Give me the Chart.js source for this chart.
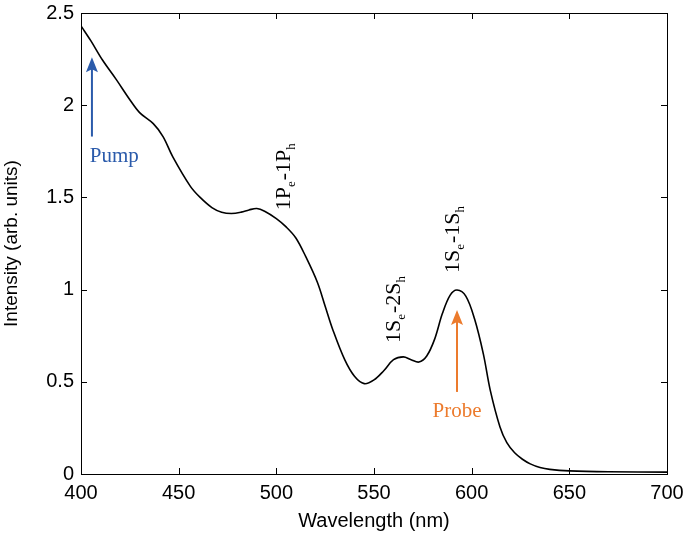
<!DOCTYPE html>
<html>
<head>
<meta charset="utf-8">
<script src="https://cdn.jsdelivr.net/npm/chart.js@4.4.0/dist/chart.umd.min.js"></script>
<style>
  html, body { margin: 0; padding: 0; background: #fff; }
  #wrap { width: 687px; height: 535px; }
</style>
</head>
<body>
<div id="wrap"><canvas id="spec"></canvas></div>
<script>
// wavelength (nm) and intensity
const wavelength = [400, 405, 411, 418, 425, 430, 437, 442, 447, 456, 461, 467, 472, 477, 482, 486, 490, 494, 500, 505, 510, 515, 521, 525, 529, 535, 540, 545, 550, 555, 560, 565, 569, 573, 577, 581, 585, 589, 592.5, 597, 601.5, 606, 609.5, 614.5, 618, 622, 626, 630, 635, 640, 650, 670, 700];
const intensity  = [2.43, 2.35, 2.245, 2.14, 2.03, 1.96, 1.9, 1.83, 1.72, 1.56, 1.5, 1.445, 1.42, 1.413, 1.42, 1.432, 1.44, 1.425, 1.385, 1.34, 1.28, 1.18, 1.04, 0.91, 0.78, 0.62, 0.53, 0.49, 0.51, 0.56, 0.62, 0.635, 0.62, 0.607, 0.64, 0.73, 0.87, 0.97, 0.998, 0.965, 0.84, 0.65, 0.455, 0.255, 0.17, 0.115, 0.08, 0.055, 0.035, 0.025, 0.017, 0.012, 0.01];

const xTicks = [400, 450, 500, 550, 600, 650, 700];
const yTicks = [0, 0.5, 1, 1.5, 2, 2.5];

// transition labels: [main, sub, main, sub] at (wavelength, intensity)
const transitions = [
  { parts: ['1P', 'e', '-1P', 'h'], x: 507, y: 1.43 },
  { parts: ['1S', 'e', '-2S', 'h'], x: 563.5, y: 0.71 },
  { parts: ['1S', 'e', '-1S', 'h'], x: 593.5, y: 1.09 }
];
const arrows = [
  { text: 'Pump',  color: '#2b5bab', x: 405.6, from: 1.83,  to: 2.26, tx: 404.5, ty: 1.69 },
  { text: 'Probe', color: '#ec7b2d', x: 592.5, from: 0.445, to: 0.89, tx: 592.5, ty: 0.31 }
];

const pts = wavelength.map((w, i) => ({ x: w, y: intensity[i] }));

const frame = {
  id: 'frame',
  afterDraw(chart) {
    const ctx = chart.ctx, a = chart.chartArea;
    const xs = chart.scales.x, ys = chart.scales.y;
    ctx.save();
    ctx.strokeStyle = '#000';
    ctx.lineWidth = 1;
    ctx.strokeRect(a.left + 0.5, a.top + 0.5, a.right - a.left, a.bottom - a.top);
    ctx.beginPath();
    xTicks.forEach(v => {
      const p = Math.round(xs.getPixelForValue(v)) + 0.5;
      ctx.moveTo(p, a.bottom); ctx.lineTo(p, a.bottom - 6);
      ctx.moveTo(p, a.top); ctx.lineTo(p, a.top + 6);
    });
    yTicks.forEach(v => {
      const p = Math.round(ys.getPixelForValue(v)) + 0.5;
      ctx.moveTo(a.left, p); ctx.lineTo(a.left + 6, p);
      ctx.moveTo(a.right, p); ctx.lineTo(a.right - 6, p);
    });
    ctx.stroke();

    // rotated transition labels
    ctx.fillStyle = '#000';
    ctx.textBaseline = 'alphabetic';
    transitions.forEach(t => {
      ctx.save();
      ctx.translate(xs.getPixelForValue(t.x), ys.getPixelForValue(t.y));
      ctx.rotate(-Math.PI / 2);
      let off = 0;
      t.parts.forEach((s, i) => {
        const sub = i % 2 === 1;
        ctx.font = sub ? '13px "Liberation Serif"' : '22px "Liberation Serif"';
        ctx.fillText(s, off, sub ? 5 : 0);
        off += ctx.measureText(s).width + (sub ? 1 : 0);
      });
      ctx.restore();
    });

    // pump / probe arrows
    arrows.forEach(r => {
      const x = xs.getPixelForValue(r.x);
      const y0 = ys.getPixelForValue(r.from), y1 = ys.getPixelForValue(r.to);
      ctx.strokeStyle = r.color;
      ctx.fillStyle = r.color;
      ctx.lineWidth = 2;
      ctx.beginPath();
      ctx.moveTo(x, y0); ctx.lineTo(x, y1 + 10);
      ctx.stroke();
      ctx.beginPath();
      ctx.moveTo(x, y1); ctx.lineTo(x - 6, y1 + 15); ctx.lineTo(x, y1 + 12); ctx.lineTo(x + 6, y1 + 15);
      ctx.closePath();
      ctx.fill();
      ctx.font = '21px "Liberation Serif"';
      ctx.textAlign = 'left';
      ctx.fillText(r.text, xs.getPixelForValue(r.tx) - (r.text === 'Probe' ? ctx.measureText(r.text).width / 2 : 0), ys.getPixelForValue(r.ty));
    });
    ctx.restore();
  }
};

new Chart(document.getElementById('spec'), {
  type: 'line',
  data: {
    datasets: [{
      data: pts,
      borderColor: '#000',
      borderWidth: 1.6,
      pointRadius: 0,
      tension: 0.35,
      fill: false
    }]
  },
  options: {
    responsive: true,
    maintainAspectRatio: false,
    animation: false,
    layout: { padding: { left: 0, top: 13, right: 20, bottom: 0 } },
    plugins: { legend: { display: false }, tooltip: { enabled: false } },
    scales: {
      x: {
        type: 'linear',
        min: 400, max: 700,
        afterBuildTicks: s => { s.ticks = xTicks.map(v => ({ value: v })); },
        afterFit: s => { s.height = 61; s.paddingLeft = 0; s.paddingRight = 0; },
        grid: { display: true, drawOnChartArea: false, drawTicks: false },
        border: { display: true, color: '#000' },
        ticks: { color: '#000', padding: 7, maxRotation: 0, font: { family: '"Liberation Sans", Arial', size: 20 } },
        title: { display: true, text: 'Wavelength (nm)', color: '#000', padding: { top: 0, bottom: 2 }, font: { family: '"Liberation Sans", Arial', size: 20 } }
      },
      y: {
        min: 0, max: 2.5,
        afterBuildTicks: s => { s.ticks = yTicks.map(v => ({ value: v })); },
        afterFit: s => { s.width = 81; s.paddingTop = 0; s.paddingBottom = 0; },
        grid: { display: true, drawOnChartArea: false, drawTicks: false },
        border: { display: true, color: '#000' },
        ticks: { color: '#000', padding: 7, callback: v => String(v), font: { family: '"Liberation Sans", Arial', size: 20 } },
        title: { display: true, text: 'Intensity (arb. units)', color: '#000', padding: { top: 0, bottom: 0 }, font: { family: '"Liberation Sans", Arial', size: 19 } }
      }
    }
  },
  plugins: [frame]
});
</script>
</body>
</html>
